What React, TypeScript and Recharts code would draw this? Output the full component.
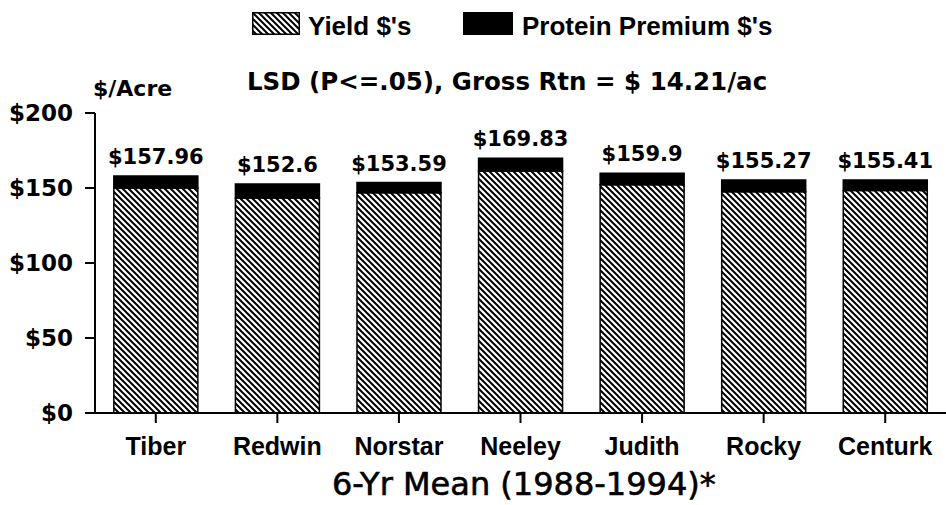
import React from 'react';
import { BarChart, Bar, XAxis, YAxis, LabelList } from 'recharts';

const VARIETIES = ['Tiber', 'Redwin', 'Norstar', 'Neeley', 'Judith', 'Rocky', 'Centurk'];
const YIELD = [150.0, 143.3, 146.9, 161.4, 152.1, 147.5, 148.3];
const PROTEIN = [7.96, 9.3, 6.69, 8.43, 7.8, 7.77, 7.11];
const TOTAL_LABELS = ['$157.96', '$152.6', '$153.59', '$169.83', '$159.9', '$155.27', '$155.41'];
const Y_TICKS = [0, 50, 100, 150, 200];

const data = VARIETIES.map((name, i) => ({
  name,
  yield: YIELD[i],
  protein: PROTEIN[i],
  label: TOTAL_LABELS[i],
}));

const DEJAVU = '"DejaVu Sans", sans-serif';
const ARIAL = '"Liberation Sans", Arial, sans-serif';

const hatchDef = (id: string) => (
  <pattern id={id} patternUnits="userSpaceOnUse" width={6} height={6}>
    <rect width={6} height={6} fill="#fff" />
    <path d="M-1,-1 L7,7 M-1,5 L1,7 M5,-1 L7,1" stroke="#000" strokeWidth={2} />
  </pattern>
);

export default function App() {
  return (
    <div
      style={{
        position: 'absolute',
        left: 0,
        top: 0,
        width: 946,
        height: 505,
        background: '#fff',
        color: '#000',
        overflow: 'hidden',
      }}
    >
      {/* legend */}
      <svg width={48} height={23} style={{ position: 'absolute', left: 252, top: 12 }}>
        <defs>{hatchDef('hatchLegend')}</defs>
        <rect x={0.75} y={0.75} width={46.5} height={21.5} fill="url(#hatchLegend)" stroke="#000" strokeWidth={1.5} />
      </svg>
      <div style={{ position: 'absolute', left: 308, top: 13, fontFamily: ARIAL, fontWeight: 700, fontSize: 26, lineHeight: 1 }}>
        Yield $'s
      </div>
      <div style={{ position: 'absolute', left: 463, top: 12, width: 50, height: 23, background: '#000' }} />
      <div style={{ position: 'absolute', left: 522, top: 13, fontFamily: ARIAL, fontWeight: 700, fontSize: 26, lineHeight: 1 }}>
        Protein Premium $'s
      </div>

      <div style={{ position: 'absolute', left: 93, top: 78, fontFamily: DEJAVU, fontWeight: 700, fontSize: 22, lineHeight: 1 }}>
        $/Acre
      </div>
      <div style={{ position: 'absolute', left: 247, top: 70, fontFamily: DEJAVU, fontWeight: 700, fontSize: 24.5, lineHeight: 1, whiteSpace: 'nowrap' }}>
        LSD (P&lt;=.05), Gross Rtn = $ 14.21/ac
      </div>

      <BarChart
        width={946}
        height={505}
        data={data}
        margin={{ top: 113, right: 0, bottom: 40, left: 0 }}
        barCategoryGap="15.5%"
      >
        <defs>{hatchDef('hatch')}</defs>
        <XAxis
          dataKey="name"
          stroke="#000"
          strokeWidth={2}
          tickSize={10}
          tickMargin={14}
          height={52}
          tick={{ fill: '#000', fontSize: 25, fontWeight: 700, fontFamily: ARIAL }}
        />
        <YAxis
          domain={[0, 200]}
          ticks={Y_TICKS}
          width={95}
          stroke="#000"
          strokeWidth={2}
          tickSize={10}
          tickMargin={12}
          tickFormatter={(v: number) => `$${v}`}
          tick={{ fill: '#000', fontSize: 23, fontWeight: 700, fontFamily: DEJAVU }}
        />
        <Bar dataKey="yield" stackId="a" fill="url(#hatch)" stroke="#000" strokeWidth={1.5} isAnimationActive={false} />
        <Bar dataKey="protein" stackId="a" fill="#000" stroke="#000" strokeWidth={1.5} isAnimationActive={false}>
          <LabelList
            dataKey="label"
            position="top"
            offset={12}
            fill="#000"
            style={{ fontSize: 21, fontWeight: 700, fontFamily: DEJAVU }}
          />
        </Bar>
      </BarChart>

      <div
        style={{
          position: 'absolute',
          left: 332,
          top: 468,
          fontFamily: DEJAVU,
          fontSize: 32,
          lineHeight: 1,
          whiteSpace: 'nowrap',
          WebkitTextStroke: '0.6px #000',
        }}
      >
        6-Yr Mean (1988-1994)*
      </div>
    </div>
  );
}
